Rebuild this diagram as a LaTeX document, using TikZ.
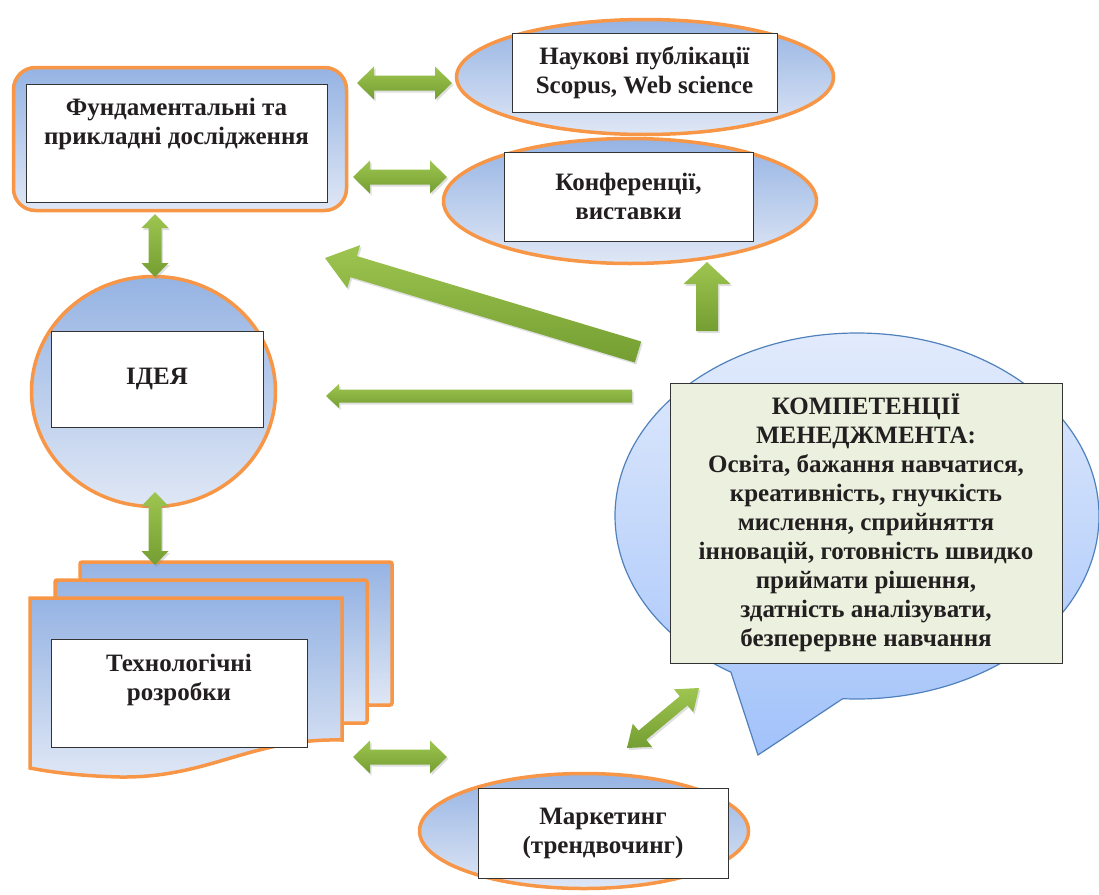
\documentclass[tikz,border=0pt]{standalone}
\usepackage{fontspec}
\setmainfont{Liberation Serif}
\usepackage{xcolor}
\usetikzlibrary{shapes,shapes.callouts,calc,shadows,positioning}

\definecolor{brdorange}{RGB}{247,150,70}
\definecolor{bluetop}{RGB}{149,179,227}
\definecolor{bluebot}{RGB}{223,231,245}
\definecolor{greentop}{RGB}{158,197,80}
\definecolor{greenbot}{RGB}{116,158,50}
\definecolor{bubtop}{RGB}{226,235,252}
\definecolor{bubbot}{RGB}{162,194,250}
\definecolor{bubline}{RGB}{79,129,189}
\definecolor{compfill}{RGB}{235,241,222}
\definecolor{txtcol}{RGB}{35,31,32}

\tikzset{
  shapebg/.style={draw=brdorange, line width=3.5pt, top color=bluetop, bottom color=bluebot, inner sep=0pt},
  txtbox/.style={draw=black!80, line width=1pt, fill=white, align=center, inner sep=0pt,
    text=txtcol, font=\fontsize{25}{29}\selectfont\bfseries},
  arrowfill/.style={top color=greentop, bottom color=greenbot,
    drop shadow={opacity=0.25, shadow xshift=1.5pt, shadow yshift=-2pt}}
}

% block arrows: from, to, half shaft, half head, head length
\newcommand{\greensgl}[5]{%
  \path ($(#2)!#5!(#1)$) coordinate (hb);
  \shade[arrowfill] ($(#1)!#3!90:(#2)$) -- ($(hb)!#3!90:(#2)$) -- ($(hb)!#4!90:(#2)$) -- (#2)
    -- ($(hb)!#4!-90:(#2)$) -- ($(hb)!#3!-90:(#2)$) -- ($(#1)!#3!-90:(#2)$) -- cycle;}
\newcommand{\greendbl}[5]{%
  \path ($(#1)!#5!(#2)$) coordinate (ha) ($(#2)!#5!(#1)$) coordinate (hb);
  \shade[arrowfill] (#1) -- ($(ha)!#4!90:(#2)$) -- ($(ha)!#3!90:(#2)$) -- ($(hb)!#3!90:(#2)$)
    -- ($(hb)!#4!90:(#2)$) -- (#2) -- ($(hb)!#4!-90:(#2)$) -- ($(hb)!#3!-90:(#2)$)
    -- ($(ha)!#3!-90:(#2)$) -- ($(ha)!#4!-90:(#2)$) -- cycle;}

\begin{document}
\begin{tikzpicture}[x=1pt,y=-1pt]
\useasboundingbox (0,0) rectangle (1099,894);

% background shapes
\node[shapebg, rounded corners=22pt, minimum width=333pt, minimum height=143pt] (fund) at (180,139) {};
\node[shapebg, ellipse, minimum width=377pt, minimum height=115pt] (nauk) at (645,77) {};
\node[shapebg, ellipse, minimum width=373pt, minimum height=125pt] (konf) at (630,201) {};
\node[shapebg, ellipse, minimum width=244pt, minimum height=230pt] (idea) at (153.5,391.5) {};
\node[shapebg, ellipse, minimum width=329pt, minimum height=115pt] (mark) at (584,831) {};

% pages of the technology stack
\draw[shapebg, rounded corners=2pt] (80,562) rectangle (392,705);
\draw[shapebg, rounded corners=2pt] (55,580) rectangle (367,723);
\draw[shapebg] (30,598) -- (342,598) -- (342,740) .. controls (250,738) and (210,778) .. (120,777)
  .. controls (80,776) and (50,772) .. (30,768) -- cycle;

% speech bubble
\node[ellipse callout, callout absolute pointer={(758,755)}, callout pointer arc=28,
  minimum width=484pt, minimum height=366pt, draw=bubline, line width=1.2pt,
  top color=bubtop, bottom color=bubbot] (bubble) at (857,516) {};

% texts
\node[txtbox, minimum width=301pt, minimum height=118pt] (fundtxt) at (176.5,143)
  {\begin{tabular}{@{}c@{}}Фундаментальні та\\прикладні дослідження\\[38pt]\end{tabular}};
\node[txtbox, minimum width=265pt, minimum height=79pt] (nauktxt) at (644.5,72.5) {Наукові публікації\\Scopus, Web science};
\node[txtbox, minimum width=249pt, minimum height=89pt] (konftxt) at (628.5,196.5) {Конференції,\\виставки};
\node[txtbox, minimum width=212pt, minimum height=96pt] (ideatxt) at (157,379) {ІДЕЯ};
\node[txtbox, minimum width=256pt, minimum height=108pt] (techtxt) at (179,693)
  {\begin{tabular}{@{}c@{}}Технологічні\\розробки\\[25pt]\end{tabular}};
\node[txtbox, minimum width=250pt, minimum height=90pt] (marktxt) at (603,833) {Маркетинг\\(трендвочинг)};
\node[txtbox, fill=compfill, minimum width=392pt, minimum height=280pt] (comptxt) at (866,523)
  {КОМПЕТЕНЦІЇ\\МЕНЕДЖМЕНТА:\\Освіта, бажання навчатися,\\креативність, гнучкість\\мислення, сприйняття\\інновацій, готовність швидко\\приймати рішення,\\здатність аналізувати,\\безперервне навчання};

% arrow ends
\coordinate (a1l) at (357,83);  \coordinate (a1r) at (452,83);
\coordinate (a2l) at (353,177); \coordinate (a2r) at (447,177);
\coordinate (a3t) at (155,214); \coordinate (a3b) at (155,277);
\coordinate (a4t) at (155,492); \coordinate (a4b) at (155,565);
\coordinate (a5l) at (353,757); \coordinate (a5r) at (447,757);
\coordinate (a6l) at (627,748); \coordinate (a6r) at (699,688);
\coordinate (a7b) at (707,331); \coordinate (a7t) at (707,262);
\coordinate (a8s) at (638,352); \coordinate (a8e) at (325,258);
\coordinate (a9s) at (632,396); \coordinate (a9e) at (326,396);

% arrows
\greendbl{a1l}{a1r}{7.5pt}{16.5pt}{17pt}
\greendbl{a2l}{a2r}{7.5pt}{16.5pt}{17pt}
\greendbl{a3t}{a3b}{6.5pt}{13.5pt}{14pt}
\greendbl{a4t}{a4b}{6.5pt}{13.5pt}{14pt}
\greendbl{a5l}{a5r}{7.5pt}{16.5pt}{17pt}
\greendbl{a6l}{a6r}{6pt}{15pt}{20pt}
\greensgl{a7b}{a7t}{11pt}{23.5pt}{22pt}
\greensgl{a8s}{a8e}{11pt}{22.5pt}{30pt}
\greensgl{a9s}{a9e}{6.5pt}{12pt}{13pt}
\end{tikzpicture}
\end{document}
